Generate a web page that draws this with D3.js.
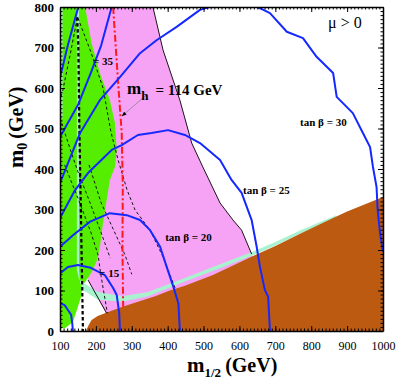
<!DOCTYPE html>
<html lang='en'>
<head>
<meta charset='utf-8'>
<title>m0 vs m1/2, mu &gt; 0</title>
<script src='https://cdnjs.cloudflare.com/ajax/libs/d3/7.8.5/d3.min.js'></script>
<style>
body {
   margin:0;
   background:white;
}
svg {
   display:block;
   font-family:'Liberation Serif','Times New Roman',serif;
}
svg text {
   font-family:'Liberation Serif','Times New Roman',serif;
}
</style>
</head>
<body>
<script>
// all points are [m1/2, m0] in GeV
var xTicks = [100, 200, 300, 400, 500, 600, 700, 800, 900, 1000];
var yTicks = [0, 100, 200, 300, 400, 500, 600, 700, 800];

var pinkRegion = [[150,800],[359,800],[387,694],[434,570],[467,464],[498,405],[546,316],[582,274],[606,249],[634,190],[640,178],
   [526,130],[448,104],[406,94],[365,80],[330,70],[272,54],[230,40],[178,126],[175,140],[150,200]];
var greenRegion = [[100,800],[170,800],[188,711],[211,637],[239,570],[253,514],[258,447],[253,405],[239,373],[230,323],
   [220,267],[211,207],[203,175],[192,151],[178,131],[164,114],[158,82],[147,52],[136,22],[114,7],[100,7]];
var mintRegion = [[147,800],[147,151],[153,128],[164,119],[206,96],[273,86],[345,96],[448,131],[526,158],[638,196],
   [700,220],[769,248],[833,272],[870,286],[870,280],[833,266],[769,240],[700,211],[638,187],[526,148],[448,122],
   [345,86],[273,72],[206,77],[164,101],[156,119],[153,151],[153,800]];
var mintEdge = [[105,800],[105,525]];
var brownEdge = [[172,0],[180,15],[188,27],[205,37],[225,44],[272,59],[330,76],[365,86],[406,100],[448,112],[526,138],
   [638,185],[700,210],[769,240],[833,267],[900,295],[1000,331]];

var pinkEdge = [[359,800],[387,694],[434,570],[467,464],[498,405],[546,316],[582,274],[606,249],[634,190]];
var lowEdge = [[178,126],[230,44]];

var mhLine = [[248,800],[262,612],[272,489],[275,356],[274,207],[276,60]];
var charginoLine = [[148,775],[151,706],[154,500],[156,400],[160,200],[164,0]];

var g2Lines = [
   [[150,773],[186,689],[220,600],[242,491],[262,422],[287,348],[309,299],[351,249],[387,183],[415,119],[422,103]],
   [[148,773],[128,681],[108,595],[100,570]],
   [[100,526],[131,442],[150,393],[181,323],[214,244],[240,180]],
   [[113,410],[150,328],[186,244],[206,188],[214,138],[232,44]],
   [[181,410],[214,318],[281,188],[300,140]]
];

var tb10 = [[100,69],[113,64],[122,52],[131,40],[134,20],[136,0]];
var tb15 = [[100,142],[122,158],[150,163],[186,156],[225,138],[248,106],[258,89],[265,44],[267,0]];
var tb20 = [[100,208],[137,237],[184,270],[239,291],[286,286],[323,274],[351,249],[379,208],[397,159],[416,109],[430,68],[434,0]];
var tb25 = [[100,279],[142,348],[178,390],[244,447],[272,459],[317,484],[355,489],[401,496],[448,484],[490,464],[546,422],
   [578,373],[606,341],[634,274],[648,208],[657,159],[671,101],[680,85],[685,0]];
var tb30 = [[100,365],[156,489],[211,570],[267,627],[323,686],[369,718],[425,751],[490,793],[554,810],[615,812],[657,797],
   [685,785],[732,739],[777,723],[815,677],[861,637],[871,578],[916,538],[944,489],[964,454],[972,405],[982,356],
   [985,300],[992,240],[1000,196]];
var tb35 = [[100,479],[150,558],[187,640],[215,706],[243,797],[245,805]];
var tb40 = [[100,625],[122,706],[150,797],[151,805]];

var W = 396, H = 382;
var x = d3.scaleLinear().domain([100, 1000]).range([60, 383]);
var y = d3.scaleLinear().domain([0, 800]).range([331, 7]);
var line = d3.line().x(function(d){return x(d[0]);}).y(function(d){return y(d[1]);});
var serif = "'Liberation Serif','Times New Roman',serif";

var svg = d3.select('body').append('svg').attr('width', W).attr('height', H);
svg.append('defs').append('clipPath').attr('id', 'plotClip')
   .append('rect').attr('x', 60).attr('y', 7).attr('width', 323).attr('height', 324);
svg.select('defs').append('marker').attr('id', 'arrowHead')
   .attr('viewBox', '0 0 10 10').attr('refX', 9).attr('refY', 5)
   .attr('markerWidth', 6).attr('markerHeight', 6).attr('orient', 'auto')
   .append('path').attr('d', 'M0,1L10,5L0,9Z').attr('fill', 'black');

var plot = svg.append('g').attr('clip-path', 'url(#plotClip)');

function region(pts, col) {
   plot.append('path').attr('d', line(pts) + 'Z').attr('fill', col).attr('stroke', 'none');
}
function curve(pts, col, w, dash) {
   plot.append('path').attr('d', line(pts)).attr('fill', 'none')
      .attr('stroke', col).attr('stroke-width', w).attr('stroke-dasharray', dash || null)
      .attr('stroke-linejoin', 'round');
}

region(pinkRegion, '#f7a3f5');
region(greenRegion, '#55ee00');
region(mintRegion, '#a9f2cf');
curve(mintEdge, '#a9f2cf', 1.5);
region(brownEdge.concat([[1000,0],[172,0]]), '#bd5a12');

curve(pinkEdge, 'black', 0.9);
curve(lowEdge, 'black', 0.9);
g2Lines.forEach(function(l){ curve(l, 'black', 0.9, '3,2.5'); });
curve(charginoLine, 'black', 2.2, '3.5,2.5');
curve(mhLine, '#ff1a1a', 2, '7,2.5,2,2.5');

[tb10, tb15, tb20, tb25, tb30, tb35, tb40].forEach(function(l){ curve(l, '#1428ff', 2); });

// arrow from the m_h label to the red line
plot.append('line')
   .attr('x1', x(342)).attr('y1', y(584)).attr('x2', x(273)).attr('y2', y(531))
   .attr('stroke', '#888').attr('stroke-width', 0.8).attr('marker-end', 'url(#arrowHead)');

function label(txt, mx, my, size) {
   return svg.append('text').attr('x', x(mx)).attr('y', y(my))
      .attr('font-size', size).attr('font-weight', 'bold').text(txt);
}
label('tan \u03b2 = 30', 769, 506, 11);
label('tan \u03b2 = 25', 610, 338, 11);
label('tan \u03b2 = 20', 393, 222, 11);
label('= 35', 192, 657, 11);
label('= 15', 209, 133, 11);

var mh = svg.append('text').attr('x', x(287)).attr('y', y(585)).attr('font-weight', 'bold');
mh.append('tspan').attr('font-size', 17).text('m');
mh.append('tspan').attr('font-size', 13).attr('dy', 6).text('h');
mh.append('tspan').attr('font-size', 15).attr('dx', 7).attr('dy', -5).text('= 114 GeV');

svg.append('text').attr('x', x(847)).attr('y', y(748)).attr('font-size', 16).text('\u03bc > 0');

// axes, ticks pointing inward on all four sides
function styleAxis(g) {
   g.attr('font-family', serif);
   g.selectAll('.domain').attr('stroke-width', 1.5);
   g.selectAll('.tick line').attr('stroke-width', 1);
}
function minor(g) {
   g.select('.domain').remove();
}
svg.append('g').attr('transform', 'translate(0,331)')
   .call(d3.axisBottom(x).tickValues(d3.range(100, 1001, 10)).tickSize(-2.5).tickFormat('')).call(minor);
svg.append('g').attr('transform', 'translate(0,7)')
   .call(d3.axisTop(x).tickValues(d3.range(100, 1001, 10)).tickSize(-2.5).tickFormat('')).call(minor);
svg.append('g').attr('transform', 'translate(60,0)')
   .call(d3.axisLeft(y).tickValues(d3.range(0, 801, 10)).tickSize(-2.5).tickFormat('')).call(minor);
svg.append('g').attr('transform', 'translate(383,0)')
   .call(d3.axisRight(y).tickValues(d3.range(0, 801, 10)).tickSize(-2.5).tickFormat('')).call(minor);

var xAxis = svg.append('g').attr('transform', 'translate(0,331)')
   .call(d3.axisBottom(x).tickValues(xTicks).tickSize(-5).tickSizeOuter(0).tickPadding(10).tickFormat(d3.format('d')))
   .call(styleAxis);
xAxis.selectAll('text').attr('font-size', 12).attr('fill', 'black');
var yAxis = svg.append('g').attr('transform', 'translate(60,0)')
   .call(d3.axisLeft(y).tickValues(yTicks).tickSize(-5).tickSizeOuter(0).tickPadding(6).tickFormat(d3.format('d')))
   .call(styleAxis);
yAxis.selectAll('text').attr('font-size', 13).attr('font-weight', 'bold').attr('fill', 'black');
svg.append('g').attr('transform', 'translate(0,7)')
   .call(d3.axisTop(x).tickValues(xTicks).tickSize(-5).tickSizeOuter(0).tickFormat(''))
   .call(styleAxis);
svg.append('g').attr('transform', 'translate(383,0)')
   .call(d3.axisRight(y).tickValues(yTicks).tickSize(-5).tickSizeOuter(0).tickFormat(''))
   .call(styleAxis);

// axis titles
var xt = svg.append('text').attr('x', 187).attr('y', 372).attr('font-weight', 'bold');
xt.append('tspan').attr('font-size', 21).text('m');
xt.append('tspan').attr('font-size', 13).attr('dy', 5).text('1/2');
xt.append('tspan').attr('font-size', 20).attr('dx', 4).attr('dy', -5).text('(GeV)');

var yt = svg.append('text').attr('transform', 'translate(23,168) rotate(-90)').attr('font-weight', 'bold');
yt.append('tspan').attr('font-size', 22).text('m');
yt.append('tspan').attr('font-size', 14).attr('dy', 4).text('0');
yt.append('tspan').attr('font-size', 20).attr('dx', 4).attr('dy', -4).text('(GeV)');
</script>
</body>
</html>
